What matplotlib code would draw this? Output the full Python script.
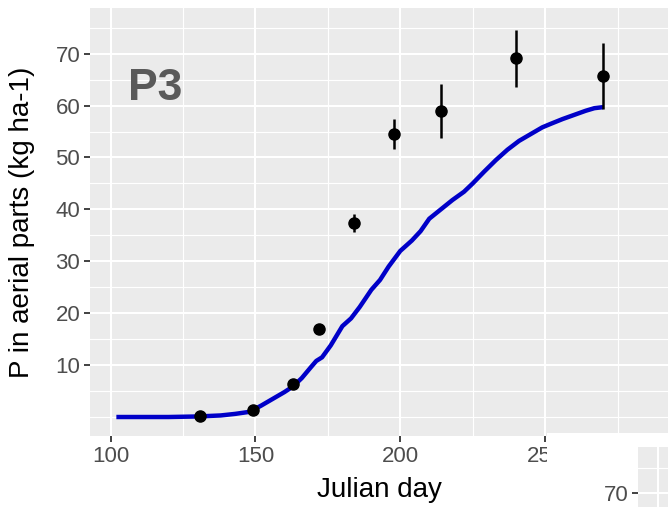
import numpy as np
import matplotlib
matplotlib.use("Agg")
import matplotlib.pyplot as plt
from matplotlib.patches import Rectangle

plt.rcParams['font.family'] = ['Liberation Sans', 'DejaVu Sans']

# observed P in aerial parts (mean +- error)
obs_day = [131, 149, 163, 172, 184, 198, 214, 240, 270]
obs_p = [0.2, 1.4, 6.3, 17.0, 37.4, 54.5, 59.0, 69.1, 65.7]
obs_err = [0.0, 0.0, 0.0, 0.0, 1.7, 2.9, 5.2, 5.5, 6.3]

# simulated curve
sim_day = [102, 110, 120, 130, 138, 143, 148, 152, 156, 160, 163, 166, 169,
           171, 173, 176, 180, 183, 186, 190, 193, 196, 200, 204, 207, 210,
           214, 218, 222, 225, 229, 233, 237, 241, 245, 249, 252, 256, 260,
           264, 267, 270]
sim_p = [0.0, 0.0, 0.0, 0.1, 0.3, 0.6, 1.0, 2.2, 3.5, 4.8, 5.9, 7.5, 9.5,
         10.8, 11.5, 13.8, 17.5, 19.0, 21.2, 24.5, 26.4, 29.0, 32.0, 34.0,
         35.8, 38.2, 40.0, 41.8, 43.4, 45.0, 47.3, 49.5, 51.5, 53.2, 54.5,
         55.8, 56.5, 57.4, 58.2, 59.0, 59.5, 59.7]

x_major = [100, 150, 200, 250]
x_minor = [125, 175, 225, 275]
y_major = [10, 20, 30, 40, 50, 60, 70]
y_minor = [0, 5, 15, 25, 35, 45, 55, 65, 75]

W, H = 668, 507
fig = plt.figure(figsize=(W / 100, H / 100), dpi=100)

def px(x0, y0, x1, y1):
    # pixel box -> figure fraction [left, bottom, width, height]
    return [x0 / W, 1 - y1 / H, (x1 - x0) / W, (y1 - y0) / H]

ax = fig.add_axes(px(90, 8, 690, 436))
ax.set_facecolor('#EBEBEB')
for s in ax.spines.values():
    s.set_visible(False)
ax.set_xlim(92.9, 300)
ax.set_ylim(-3.66, 78.8)
ax.set_xticks(x_major)
ax.set_xticks(x_minor, minor=True)
ax.set_yticks(y_major)
ax.set_yticks(y_minor, minor=True)
ax.grid(True, which='major', color='white', lw=1.5)
ax.grid(True, which='minor', color='white', lw=0.8)
ax.axvline(300, color='white', lw=1.5, zorder=0.5)
ax.set_axisbelow(True)
ax.tick_params(which='major', length=4, width=1.3, color='#333333',
               labelcolor='#4D4D4D', labelsize=16, pad=3)
ax.tick_params(which='minor', length=0)

ax.plot(sim_day, sim_p, color='#0000C8', lw=3.2, solid_capstyle='butt', zorder=3)
ax.errorbar(obs_day, obs_p, yerr=obs_err, fmt='o', color='black', ms=8,
            elinewidth=1.8, capsize=0, zorder=4)

ax.set_xlabel('Julian day', fontsize=20, color='black')
ax.xaxis.set_label_coords(0.483, -0.095)
ax.set_ylabel('P in aerial parts (kg ha-1)', fontsize=20, color='black')
ax.yaxis.set_label_coords(-0.092, 0.5)

fig.text(128 / W, 1 - 100 / H, 'P3', fontsize=32, fontweight='bold',
         color='#5A5A5A', va='baseline', ha='left')

# neighbouring panel cut into the corner
fig.add_artist(Rectangle((547 / W, 0), (W - 547) / W, (H - 433) / H,
                         transform=fig.transFigure, facecolor='white',
                         edgecolor='none', zorder=5))
ax2 = fig.add_axes(px(638, 447, 700, 520), zorder=10)
ax2.set_facecolor('#EBEBEB')
for s in ax2.spines.values():
    s.set_visible(False)
ax2.set_xlim(0, 1)
ax2.set_ylim(64.6, 79.2)
ax2.set_xticks([0.32])
ax2.set_yticks([70])
ax2.set_yticks([75], minor=True)
ax2.grid(True, which='major', color='white', lw=1.5)
ax2.grid(True, which='minor', color='white', lw=0.8)
ax2.tick_params(axis='x', length=0, labelbottom=False)
ax2.tick_params(axis='y', which='major', length=4, width=1.3, color='#333333',
                labelcolor='#4D4D4D', labelsize=16, pad=3)
ax2.tick_params(which='minor', length=0)

fig.savefig('out.png', dpi=100)
